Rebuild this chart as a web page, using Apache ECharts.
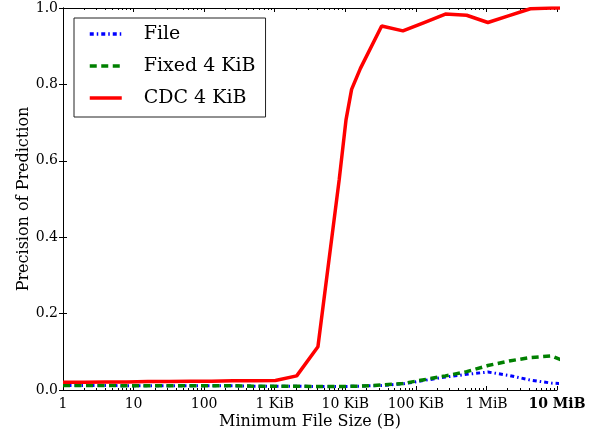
<!DOCTYPE html>
<html><head><meta charset="utf-8">
<script src="https://cdn.jsdelivr.net/npm/echarts@6/dist/echarts.min.js"></script>
<style>html,body{margin:0;padding:0;background:#fff}#c{width:595px;height:434px}</style>
</head><body><div id="c"></div>
<script>
// Minimum file size (bytes) for the File / Fixed series
const sizes = [1, 2, 4, 8, 16, 32, 64, 128, 256, 512, 1024, 2048, 4096, 8192, 16384, 32768,
  65536, 131072, 262144, 524288, 1048576, 2097152, 4194304, 8388608, 16777216];
const fileValues = [0.012, 0.012, 0.012, 0.011, 0.011, 0.011, 0.011, 0.011, 0.011, 0.010, 0.010, 0.010,
  0.009, 0.009, 0.010, 0.012, 0.016, 0.025, 0.034, 0.041, 0.047, 0.038, 0.026, 0.018, 0.015];
const fixedValues = [0.012, 0.012, 0.012, 0.011, 0.011, 0.011, 0.011, 0.011, 0.011, 0.010, 0.010, 0.010,
  0.009, 0.009, 0.010, 0.013, 0.017, 0.027, 0.037, 0.048, 0.064, 0.076, 0.085, 0.089, 0.066];
// CDC series sizes (bytes)
const cdcSizes = [1, 2, 4, 8, 16, 32, 64, 128, 256, 512, 1024, 2048, 4096, 8192, 10240, 12288, 16384,
  32768, 65536, 131072, 262144, 524288, 1048576, 2097152, 4194304, 8388608, 16777216];
const cdcValues = [0.020, 0.020, 0.021, 0.021, 0.022, 0.022, 0.023, 0.023, 0.024, 0.024, 0.025, 0.037,
  0.113, 0.55, 0.707, 0.787, 0.842, 0.953, 0.940, 0.962, 0.984, 0.981, 0.962, 0.980, 0.998, 1.0, 1.0];

const seriesNames = ['File', 'Fixed 4 KiB', 'CDC 4 KiB'];
const xTickValues = [1, 10, 100, 1e3, 1e4, 1e5, 1e6, 1e7];
const xTickLabels = ['1', '10', '100', '1 KiB', '10 KiB', '100 KiB', '1 MiB', '10 MiB'];
const yTickValues = [0, 0.2, 0.4, 0.6, 0.8, 1.0];

const FONT = 'DejaVu Serif';
// minor tick positions in log10 space (2..9 x 10^k)
const minorTicks = [];
for (let k = 0; k < 7; k++) for (let m = 2; m <= 9; m++) minorTicks.push(k + Math.log10(m));

function zip(xs, ys) { return xs.map((x, i) => [x, ys[i]]); }
function xLabel(v) {
  const idx = Math.round(Math.log10(v));
  const lbl = xTickLabels[idx] || '';
  return idx === xTickLabels.length - 1 ? '{b|' + lbl + '}' : lbl;
}

const axisLineStyle = { show: true, lineStyle: { color: '#000', width: 1 } };
const chart = echarts.init(document.getElementById('c'), null, { renderer: 'canvas' });
chart.setOption({
  animation: false,
  backgroundColor: '#fff',
  textStyle: { fontFamily: FONT },
  grid: { left: 63, right: 38, top: 8, bottom: 44, containLabel: false, outerBoundsMode: 'none' },
  legend: {
    orient: 'vertical', left: 74, top: 18,
    data: seriesNames,
    padding: [6, 10, 9, 14],
    itemGap: 12, itemWidth: 32, itemHeight: 14,
    itemStyle: { opacity: 0 },
    lineStyle: { width: 3.5 },
    borderColor: '#222', borderWidth: 1, backgroundColor: '#fff',
    textStyle: { fontFamily: FONT, fontSize: 19, color: '#000', lineHeight: 20, padding: [0, 0, 0, 17] }
  },
  xAxis: [
    { type: 'log', logBase: 10, min: 1, max: 1e7, position: 'bottom',
      axisLine: axisLineStyle, splitLine: { show: false },
      axisTick: { show: true, inside: true, length: 4, lineStyle: { color: '#000' } },
      axisLabel: { formatter: xLabel, fontFamily: FONT, fontSize: 14, color: '#000', margin: 7,
        rich: { b: { fontFamily: FONT, fontSize: 14, fontWeight: 'bold', color: '#000' } } },
      name: 'Minimum File Size (B)', nameLocation: 'middle', nameGap: 24, nameMoveOverlap: false,
      nameTextStyle: { fontFamily: FONT, fontSize: 16, color: '#000' } },
    { type: 'value', min: 0, max: 7, position: 'bottom',
      axisLine: { show: false }, splitLine: { show: false }, axisLabel: { show: false },
      axisTick: { show: true, inside: true, length: 2, customValues: minorTicks, lineStyle: { color: '#000' } } },
    { type: 'log', logBase: 10, min: 1, max: 1e7, position: 'top',
      axisLine: axisLineStyle, splitLine: { show: false }, axisLabel: { show: false },
      axisTick: { show: true, inside: true, length: 4, lineStyle: { color: '#000' } } },
    { type: 'value', min: 0, max: 7, position: 'top',
      axisLine: { show: false }, splitLine: { show: false }, axisLabel: { show: false },
      axisTick: { show: true, inside: true, length: 2, customValues: minorTicks, lineStyle: { color: '#000' } } }
  ],
  yAxis: [
    { type: 'value', min: 0, max: 1, interval: 0.2, position: 'left',
      axisLine: axisLineStyle, splitLine: { show: false },
      axisTick: { show: true, inside: true, length: 4, lineStyle: { color: '#000' } },
      axisLabel: { formatter: v => v.toFixed(1), fontFamily: FONT, fontSize: 14, color: '#000', margin: 5 },
      name: 'Precision of Prediction', nameLocation: 'middle', nameGap: 31, nameRotate: 90, nameMoveOverlap: false,
      nameTextStyle: { fontFamily: FONT, fontSize: 16, color: '#000' } },
    { type: 'value', min: 0, max: 1, interval: 0.2, position: 'right',
      axisLine: axisLineStyle, splitLine: { show: false }, axisLabel: { show: false },
      axisTick: { show: true, inside: true, length: 4, lineStyle: { color: '#000' } } }
  ],
  series: [
    { name: seriesNames[0], type: 'line', xAxisIndex: 0, yAxisIndex: 0, symbol: 'none', clip: true,
      data: zip(sizes, fileValues), color: '#0000ff',
      lineStyle: { color: '#0000ff', width: 3, type: [4, 3, 1.5, 3] } },
    { name: seriesNames[1], type: 'line', xAxisIndex: 0, yAxisIndex: 0, symbol: 'none', clip: true,
      data: zip(sizes, fixedValues), color: '#008000',
      lineStyle: { color: '#008000', width: 3.5, type: [7, 4.5] } },
    { name: seriesNames[2], type: 'line', xAxisIndex: 0, yAxisIndex: 0, symbol: 'none', clip: true,
      data: zip(cdcSizes, cdcValues), color: '#ff0000',
      lineStyle: { color: '#ff0000', width: 3.5 } }
  ]
});
</script></body></html>
